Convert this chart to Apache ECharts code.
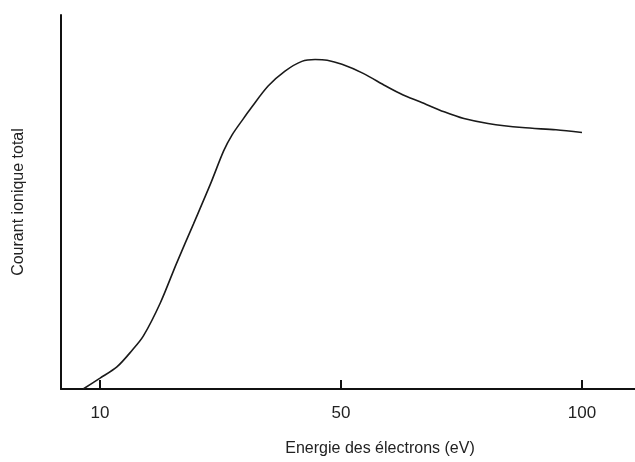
<!DOCTYPE html>
<html>
<head>
<meta charset="utf-8">
<script src="https://cdn.jsdelivr.net/npm/echarts@6/dist/echarts.min.js"></script>
<style>
  html, body { margin: 0; padding: 0; background: #fff; }
  #grafico { width: 635px; height: 462px; }
</style>
</head>
<body>
<div id="grafico"></div>
<script>
// Valores (energía en eV, corriente en unidades arbitrarias)
const etiquetasX = ['10', '50', '100'];
const marcasEV = [10, 50, 100];
const energia = [7.2, 10, 12.8, 15.3, 17.2, 20.0, 22.7, 25.5, 28.3, 30.5, 31.9, 33.8, 35.1, 37.9,
  40.7, 43.5, 45.7, 47.7, 50.2, 54.6, 59.3, 62.9, 66.4, 71.4, 75.5, 80.5, 87.6, 94.6, 100];
const corriente = [0, 2.9, 5.9, 10.3, 14.2, 23.0, 33.6, 44.1, 54.7, 63.6, 67.9, 72.3, 75.2, 81.0,
  85.0, 87.6, 88.1, 87.9, 86.8, 84.4, 81.0, 78.6, 76.8, 74.1, 72.3, 71.0, 69.9, 69.3, 68.6];

// El eje no es lineal: las marcas 10, 50 y 100 están igualmente espaciadas
function posicionEje(ev) {
  if (ev <= marcasEV[1]) return (ev - marcasEV[0]) / (marcasEV[1] - marcasEV[0]);
  return 1 + (ev - marcasEV[1]) / (marcasEV[2] - marcasEV[1]);
}

const datos = energia.map((e, i) => [posicionEje(e), corriente[i]]);
const fuente = 'Liberation Sans, Arial, sans-serif';

let grafico = echarts.init(document.getElementById('grafico'));
grafico.setOption({
  animation: false,
  grid: { left: 61, right: 0, top: 15, bottom: 67, containLabel: false },
  xAxis: {
    type: 'value',
    min: -0.162,
    max: 2.22,
    name: 'Energie des électrons (eV)',
    nameLocation: 'middle',
    nameGap: 52,
    nameTextStyle: { fontFamily: fuente, fontSize: 16, color: '#222', padding: [0, 0, 0, 64] },
    axisLine: { show: true, onZero: false, lineStyle: { color: '#111', width: 2 } },
    axisTick: { show: true, inside: true, length: 9, customValues: [0, 1, 2], lineStyle: { color: '#111', width: 2 } },
    axisLabel: {
      show: true,
      customValues: [0, 1, 2],
      margin: 16,
      fontFamily: fuente,
      fontSize: 17,
      color: '#222',
      formatter: v => etiquetasX[Math.round(v)]
    },
    splitLine: { show: false }
  },
  yAxis: {
    type: 'value',
    min: 0,
    max: 100,
    name: 'Courant ionique total',
    nameLocation: 'middle',
    nameGap: 34,
    nameTextStyle: { fontFamily: fuente, fontSize: 16, color: '#222' },
    axisLine: { show: true, onZero: false, lineStyle: { color: '#111', width: 2 } },
    axisTick: { show: false },
    axisLabel: { show: false },
    splitLine: { show: false }
  },
  series: [{
    type: 'line',
    data: datos,
    smooth: 0.3,
    symbol: 'none',
    lineStyle: { color: '#1a1a1a', width: 1.6 }
  }]
});
</script>
</body>
</html>
